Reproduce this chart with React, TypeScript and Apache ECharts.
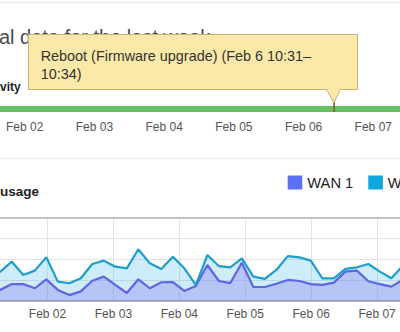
import React, { useEffect, useRef } from "react";
import * as echarts from "echarts";

// ---- data ----
const dayLabels = ["Feb 01", "Feb 02", "Feb 03", "Feb 04", "Feb 05", "Feb 06", "Feb 07", "Feb 08"];

// sample times in days since Feb 01 00:00 (≈4.2 h buckets)
const firstSampleDay = 0.2837 - 0.1745; // Feb 01 ~02:36
const sampleStepDays = 0.1745;
const wan1 = [0.70, 0.52, 0.80, 0.80, 0.60, 1.03, 0.52, 0.27, 0.45, 0.96, 1.16, 0.76, 0.37, 1.03, 0.60, 0.89, 0.90, 0.47, 0.71, 1.72, 0.95, 0.85, 1.83, 0.66, 0.66, 0.82, 1.00, 0.95, 0.80, 0.76, 0.87, 1.40, 1.45, 0.94, 0.80, 0.68, 1.01, 0.90];
const wan2 = [0.60, 0.88, 1.08, 0.44, 0.85, 1.06, 0.40, 0.57, 0.63, 0.81, 0.77, 0.88, 1.19, 1.45, 1.20, 0.64, 1.22, 1.09, 0.05, 0.48, 0.72, 0.76, 0.21, 0.50, 0.39, 0.66, 1.15, 1.14, 1.13, 0.32, 0.21, 0.13, 0.16, 0.83, 0.60, 0.40, 0.67, 0.60];
const sampleTimes = wan1.map((_, i) => firstSampleDay + i * sampleStepDays);

// connectivity segments: [startDay, endDay, status] (0 = up, 1 = reboot)
const segStart = [0, 5.4403, 5.4382];
const segEnd = [5.4382, 7, 5.4403];
const segStatus = [0, 0, 1];

const seriesNames = ["WAN 1", "WAN 2"];
const tooltipLines = ["Reboot (Firmware upgrade) (Feb 6 10:31–", "10:34)"];
const titleText = "al data for the last week";
const connectivityLabel = "vity";
const usageLabel = "usage";

const FONT = "Liberation Sans, Arial, sans-serif";
const OFF = 50; // chart div is shifted 50px left of the page

export default function App() {
  const ref = useRef<HTMLDivElement>(null);

  useEffect(() => {
    if (!ref.current) return;
    const chart = echarts.init(ref.current, undefined, { renderer: "svg" });
    const fmt = (v: number) => {
      const d = Math.round(v);
      return d <= 0 || d >= 7 ? "" : dayLabels[d];
    };
    const connData = segStart.map((s, i) => [s, segEnd[i], segStatus[i]]);

    const option: any = {
      animation: false,
      backgroundColor: "#ffffff",
      textStyle: { fontFamily: FONT },
      grid: [
        { left: 5, right: 17, top: 106, height: 6, outerBoundsMode: "none", containLabel: false },
        { left: 31.6, right: 17, top: 217.7, height: 83, outerBoundsMode: "none", containLabel: false },
      ],
      xAxis: [
        {
          gridIndex: 0, type: "value", min: 0, max: 7, interval: 1,
          axisLine: { show: false }, axisTick: { show: false }, splitLine: { show: false },
          axisLabel: { formatter: fmt, color: "#555", fontSize: 12, margin: 8.5, fontFamily: FONT },
        },
        {
          gridIndex: 1, type: "value", min: 0, max: 7, interval: 1, position: "bottom",
          axisLine: { show: true, onZero: false, lineStyle: { color: "#9b9b9b", width: 1.5 } },
          axisTick: { show: false },
          splitLine: { show: true, lineStyle: { color: "#e3e3e3", width: 1 } },
          axisLabel: { formatter: fmt, color: "#555", fontSize: 12, margin: 7.5, fontFamily: FONT },
        },
        {
          gridIndex: 1, type: "value", min: 0, max: 7, interval: 1, position: "top",
          axisLine: { show: true, onZero: false, lineStyle: { color: "#b3b3b3", width: 1.5 } },
          axisTick: { show: false }, axisLabel: { show: false }, splitLine: { show: false },
        },
      ],
      yAxis: [
        { gridIndex: 0, type: "value", min: 0, max: 1, show: false },
        {
          gridIndex: 1, type: "value", min: 0, max: 4, interval: 1,
          axisLine: { show: false }, axisTick: { show: false }, axisLabel: { show: false },
          splitLine: { show: true, lineStyle: { color: "#e3e3e3", width: 1 } },
        },
      ],
      legend: {
        left: 332.7, top: 170, itemWidth: 14.6, itemHeight: 14, itemGap: 15, icon: "rect",
        itemStyle: { borderWidth: 0 },
        textStyle: { fontSize: 14.7, color: "#222", fontFamily: FONT },
        data: seriesNames,
      },
      series: [
        {
          type: "custom", xAxisIndex: 0, yAxisIndex: 0, silent: true,
          data: connData,
          renderItem: (params: any, api: any) => {
            const s = api.coord([api.value(0), 1]);
            const e = api.coord([api.value(1), 0]);
            if (api.value(2) === 1) {
              const w = Math.max(1.5, e[0] - s[0]);
              return {
                type: "rect",
                shape: { x: s[0] - w / 2, y: s[1] - 9, width: w, height: e[1] - s[1] + 9 },
                style: { fill: "#7d5a22" },
                z2: 10,
              };
            }
            return {
              type: "rect",
              shape: { x: s[0], y: s[1], width: e[0] - s[0], height: e[1] - s[1] },
              style: { fill: "#67c262" },
            };
          },
        },
        {
          name: seriesNames[0], type: "line", xAxisIndex: 1, yAxisIndex: 1, stack: "usage",
          symbol: "none",
          encode: { x: 1, y: 0 },
          data: sampleTimes.map((t, i) => [wan1[i], t]),
          itemStyle: { color: "#5d6ff2" },
          lineStyle: { color: "#5d66e4", width: 2.2 },
          areaStyle: { color: "rgba(90,128,235,0.45)", opacity: 1 },
        },
        {
          name: seriesNames[1], type: "line", xAxisIndex: 1, yAxisIndex: 1, stack: "usage",
          symbol: "none",
          encode: { x: 1, y: 0 },
          data: sampleTimes.map((t, i) => [wan2[i], t]),
          itemStyle: { color: "#0ea7e0" },
          lineStyle: { color: "#1e9ecb", width: 2.2 },
          areaStyle: { color: "rgba(60,180,230,0.25)", opacity: 1 },
        },
      ],
      graphic: [
        { type: "line", shape: { x1: 0, y1: 2.5, x2: 510, y2: 2.5 }, style: { stroke: "#ececec", lineWidth: 1 } },
        { type: "line", shape: { x1: 0, y1: 158.5, x2: 510, y2: 158.5 }, style: { stroke: "#ececec", lineWidth: 1 } },
        {
          type: "text", x: OFF - 1, y: 37,
          style: { text: titleText, fontSize: 20, fontFamily: FONT, fill: "#4a4a4a", verticalAlign: "middle", align: "left" },
        },
        {
          type: "text", x: OFF, y: 87,
          style: { text: connectivityLabel, fontSize: 12, fontWeight: "bold", fontFamily: FONT, fill: "#222", verticalAlign: "middle", align: "left" },
        },
        {
          type: "text", x: OFF, y: 191,
          style: { text: usageLabel, fontSize: 13.5, fontWeight: "bold", fontFamily: FONT, fill: "#222", verticalAlign: "middle", align: "left" },
        },
        {
          type: "group", z: 100,
          children: [
            {
              type: "rect", shape: { x: OFF + 28.5, y: 34.5, width: 329, height: 55 },
              style: { fill: "#fce9a9", stroke: "#c9b36f", lineWidth: 1 },
              z: 100,
            },
            {
              type: "polygon",
              shape: { points: [[OFF + 326.7, 88.8], [OFF + 340.3, 88.8], [OFF + 333.8, 103]] },
              style: { fill: "#fce9a9" },
              z: 101,
            },
            {
              type: "polyline",
              shape: { points: [[OFF + 326.7, 89.5], [OFF + 333.8, 103], [OFF + 340.3, 89.5]] },
              style: { stroke: "#c9b36f", lineWidth: 1, fill: null },
              z: 102,
            },
            {
              type: "text", x: OFF + 40.7, y: 64.5, z: 103,
              style: {
                text: tooltipLines.join("\n"), fontSize: 14.4, lineHeight: 18, fontFamily: FONT,
                fill: "#333", verticalAlign: "middle", align: "left",
              },
            },
          ],
        },
      ],
    };

    chart.setOption(option);
    return () => chart.dispose();
  }, []);

  return (
    <div style={{ position: "fixed", left: 0, top: 0, width: 400, height: 332, overflow: "hidden", background: "#fff" }}>
      <div ref={ref} style={{ position: "absolute", left: -OFF, top: 0, width: 510, height: 332 }} />
    </div>
  );
}
